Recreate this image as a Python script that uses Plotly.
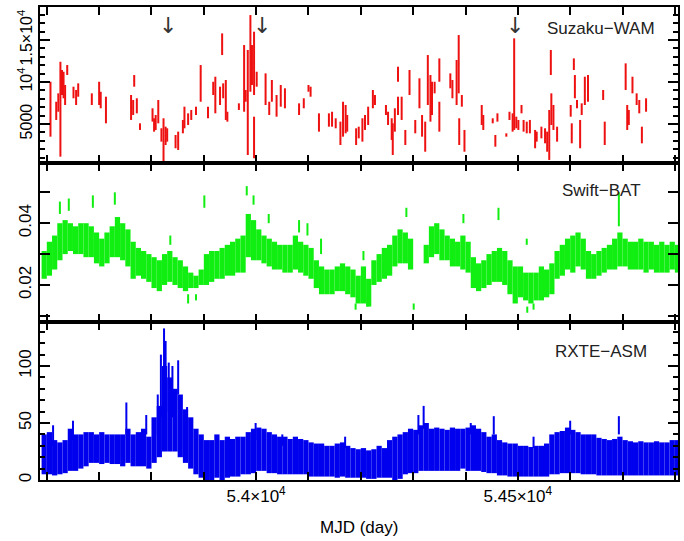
import plotly.graph_objects as go
from plotly.subplots import make_subplots

# ---------------- Suzaku-WAM (individual measurements: MJD, low, high) -------------
WAM_MJD = [53607, 53618, 53622, 53626, 53629, 53632, 53635, 53639, 53651, 53656, 53660, 53686, 53700,
           53703, 53713, 53761, 53765, 53767, 53772, 53778, 53802, 53805, 53808, 53813, 53819, 53823,
           53827, 53830, 53846, 53851, 53860, 53863, 53870, 53876, 53885, 53894, 53908, 53918, 53922,
           53931, 53935, 53937, 53942, 53945, 53967, 53977, 53980, 53984, 53989, 53992, 53996, 53996,
           54001, 54018, 54025, 54030, 54039, 54047, 54055, 54082, 54091, 54100, 54104, 54120, 54139,
           54145, 54152, 54161, 54166, 54171, 54174, 54191, 54196, 54203, 54208, 54214, 54223, 54227,
           54248, 54252, 54259, 54261, 54265, 54271, 54271, 54278, 54285, 54293, 54304, 54312, 54317,
           54323, 54328, 54333, 54336, 54341, 54350, 54350, 54371, 54375, 54383, 54387, 54388, 54393,
           54398, 54431, 54434, 54452, 54457, 54461, 54478, 54484, 54490, 54493, 54497, 54501, 54507,
           54511, 54517, 54523, 54533, 54536, 54545, 54552, 54556, 54560, 54563, 54564, 54568, 54575,
           54601, 54603, 54607, 54609, 54613, 54619, 54622, 54628, 54634, 54663, 54666, 54706, 54709,
           54712, 54719, 54727, 54732, 54737, 54745]
WAM_LO = [3490, 5480, 6460, 1110, 8450, 8060, 7260, 10830, 8060, 7260, 8250, 7260, 7260,
          6870, 5080, 5480, 6070, 9440, 6270, 4290, 5280, 4090, 4290, 5080, 2900, 510,
          2500, 2900, 2110, 1910, 3890, 4490, 4880, 5480, 6070, 7650, 5680, 8450, 6270,
          7260, 13210, 8060, 5480, 5280, 6670, 6460, 7650, 1310, 8840, 9640, 8450, 920,
          9440, 7260, 6070, 7650, 5870, 7060, 6870, 6070, 6870, 8840, 8250, 4090, 4680,
          4680, 4490, 2500, 3490, 3890, 4090, 2500, 3290, 2900, 4290, 4880, 6870, 7260,
          6070, 4880, 3100, 1310, 4090, 10030, 6070, 5480, 2500, 8450, 3890, 6870, 3490,
          1700, 7260, 5280, 6070, 8650, 10030, 4090, 9250, 8060, 7260, 8650, 2500, 7060,
          1700, 4880, 4290, 5080, 2300, 5280, 3490, 5480, 4090, 4290, 4490, 4290, 6270,
          4090, 3890, 3890, 2110, 2900, 3290, 2700, 1700, 720, 10830, 4880, 4290, 2900,
          5870, 2700, 11430, 8060, 6870, 2110, 6070, 7260, 7650, 7860, 2500, 9050, 4290,
          4880, 8650, 7260, 6270, 2700, 6460]
WAM_HI = [10030, 7650, 8650, 12410, 11430, 11220, 9640, 12020, 9440, 9050, 9840, 8650, 10030,
          8840, 8250, 8450, 7860, 10830, 8060, 5080, 6870, 5680, 6070, 7860, 4490, 5680,
          4680, 4490, 3690, 4090, 5480, 7060, 6270, 6670, 7060, 12020, 7060, 10030, 10630,
          9440, 15790, 9840, 10240, 6460, 7460, 14400, 9050, 13810, 17970, 14400, 15990, 5870,
          11220, 11030, 7650, 10240, 8450, 9640, 9250, 7460, 8060, 9640, 9440, 6270, 6270,
          6460, 5680, 5280, 7650, 7260, 6070, 4490, 4680, 5680, 6070, 7060, 9050, 8450,
          7260, 6460, 5680, 5080, 6870, 11820, 8250, 8250, 4290, 11430, 5480, 10440, 6070,
          5280, 13210, 10830, 10030, 10030, 12810, 7650, 11030, 10240, 12620, 15590, 5680, 8450,
          4290, 7260, 6070, 5680, 3690, 6270, 3890, 6460, 6270, 15200, 5870, 5480, 7260,
          5480, 5280, 5480, 4290, 4090, 4680, 4490, 4090, 6670, 13810, 8650, 7260, 4680,
          7260, 5080, 12810, 10830, 7860, 5480, 7460, 10630, 10830, 9050, 5280, 12220, 7260,
          6670, 10630, 8650, 7860, 4680, 8060]

# ---------------- 10-day bins shared by Swift-BAT and RXTE-ASM (bin centres, MJD) -------
BIN_MJD = [53595, 53605, 53615, 53625, 53635, 53645, 53655, 53665, 53675, 53685, 53695, 53705,
           53715, 53725, 53735, 53745, 53755, 53765, 53775, 53785, 53795, 53805, 53815, 53825,
           53835, 53845, 53855, 53865, 53875, 53885, 53895, 53905, 53915, 53925, 53935, 53945,
           53955, 53965, 53975, 53985, 53995, 54005, 54015, 54025, 54035, 54045, 54055, 54065,
           54075, 54085, 54095, 54105, 54115, 54125, 54135, 54145, 54155, 54165, 54175, 54185,
           54195, 54205, 54215, 54225, 54235, 54245, 54255, 54265, 54275, 54285, 54295, 54305,
           54315, 54325, 54335, 54345, 54355, 54365, 54375, 54385, 54395, 54405, 54415, 54425,
           54435, 54445, 54455, 54465, 54475, 54485, 54495, 54505, 54515, 54525, 54535, 54545,
           54555, 54565, 54575, 54585, 54595, 54605, 54615, 54625, 54635, 54645, 54655, 54665,
           54675, 54685, 54695, 54705, 54715, 54725, 54735, 54745, 54755, 54765, 54775, 54785,
           54795, 54805]

# Swift-BAT envelope per bin (count rate)
BAT_LO = [.022, .023, .025, .028, .030, .031, .030, .030, .029, .029, .027, .026,
          .027, .029, .029, .028, .026, .022, .023, .022, .021, .019, .018, .020,
          .021, .020, .019, .018, .019, .019, .020, .020, .021, .022, .022, .023,
          .023, .024, .024, .029, .028, .028, .027, .026, .025, .025, .024, .024,
          .025, .024, .023, .022, .019, .017, .017, .017, .018, .018, .017, .016,
          .014, .014, .013, .020, .021, .022, .023, .026, .027, .027, .025, None,
          None, .027, .029, .030, .028, .028, .026, .026, .025, .024, .019, .018,
          .019, .020, .021, .021, .020, .017, .014, .016, .015, .014, .015, .015,
          .016, .017, .022, .023, .025, .024, .026, .025, .022, .022, .023, .024,
          .025, .025, .026, .026, .025, .025, .025, .024, .025, .024, .024, .024,
          .025, .024]
BAT_HI = [.031, .034, .036, .040, .041, .040, .039, .040, .040, .039, .037, .035,
          .037, .039, .042, .040, .038, .034, .032, .031, .030, .029, .028, .030,
          .031, .029, .028, .026, .024, .023, .025, .030, .031, .031, .032, .033,
          .034, .035, .036, .043, .041, .038, .036, .035, .034, .033, .033, .033,
          .036, .034, .033, .032, .028, .026, .025, .025, .026, .027, .026, .025,
          .023, .026, .022, .028, .030, .032, .033, .036, .038, .037, .035, None,
          None, .033, .039, .040, .038, .036, .035, .034, .036, .034, .029, .027,
          .028, .030, .031, .032, .031, .028, .026, .026, .024, .024, .024, .026,
          .025, .027, .031, .033, .035, .036, .037, .035, .031, .030, .031, .032,
          .033, .035, .037, .035, .034, .034, .035, .034, .034, .033, .034, .033,
          .034, .033]
# Swift-BAT isolated points (MJD, low, high)
BAT_PT_MJD = [53625, 53642, 53688, 53730, 53836, 53870, 53885, 53901, 53982, 53995, 54024, 54082,
              54098, 54124, 54190, 54205, 54213, 54287, 54301, 54396, 54463, 54517, 54518, 54530, 54693]
BAT_PT_LO = [.043, .044, .045, .046, .033, .014, .015, .045, .049, .046, .040, .037,
             .036, .030, .012, .028, .013, .042, .012, .040, .041, .033, .011, .012, .039]
BAT_PT_HI = [.047, .048, .049, .050, .036, .017, .017, .049, .052, .049, .043, .041,
             .040, .035, .014, .031, .016, .045, .014, .043, .045, .035, .013, .014, .050]

# RXTE-ASM envelope per bin (count rate)
ASM_LO = [5, 5, 4, 5, 6, 8, 8, 10, 12, 15, 15, 14,
          15, 14, 14, 12, 15, 12, 12, 12, 10, 15, 20, 25,
          25, 25, 20, 15, 10, 5, 2, 0, 0, 2, 0, 2,
          3, 3, 5, 5, 6, 8, 8, 6, 6, 5, 5, 5,
          5, 5, 5, 3, 3, 3, 3, 3, 2, 3, 2, 2,
          2, 2, 1, 1, 2, 2, 2, 0, 1, 5, 6, 6,
          8, 8, 8, 8, 8, 8, 8, 8, 10, 8, 8, 8,
          7, 6, 6, 4, 4, 3, 3, 3, 3, 3, 3, 3,
          3, 5, 5, 6, 6, 6, 6, 5, 5, 5, 4, 4,
          4, 4, 4, 4, 4, 4, 4, 4, 4, 4, 4, 4,
          4, 4]
ASM_HI = [40, 42, 35, 33, 35, 45, 40, 40, 42, 42, 40, 42,
          40, 40, 40, 40, 45, 40, 42, 45, 38, 55, 65, 100,
          90, 80, 75, 62, 55, 45, 40, 35, 35, 40, 35, 38,
          36, 38, 38, 42, 45, 46, 45, 42, 40, 38, 38, 36,
          38, 36, 35, 33, 32, 32, 30, 30, 32, 33, 30, 28,
          27, 28, 26, 27, 30, 28, 35, 38, 40, 42, 45, 44,
          48, 50, 45, 46, 45, 44, 46, 45, 45, 46, 48, 45,
          42, 38, 40, 35, 33, 32, 32, 30, 30, 29, 30, 30,
          32, 40, 42, 43, 46, 44, 42, 40, 40, 40, 37, 36,
          35, 36, 38, 35, 34, 33, 34, 33, 33, 34, 33, 33,
          35, 35]
# RXTE-ASM isolated spikes (MJD, low, high)
ASM_PT_MJD = [53612, 53650, 53752, 53790, 53812, 53818, 53824, 53827, 53833, 53840, 53851, 53868,
              53999, 54050, 54170, 54310, 54320, 54410, 54454, 54530, 54600, 54693]
ASM_PT_LO = [30, 35, 40, 40, 40, 55, 80, 70, 60, 55, 75, 45, 35, 30, 28, 40, 45, 40, 40, 28, 40, 40]
ASM_PT_HI = [48, 52, 68, 57, 75, 110, 133, 122, 103, 100, 105, 64, 50, 40, 38, 57, 65, 50, 56, 38, 52, 56]

ARROW_MJD = [53832, 54011, 54495]
XTICKS = [53600, 53700, 53800, 53900, 54000, 54100, 54200, 54300, 54400, 54500, 54600, 54700, 54800]
XTICKTEXT = ["", "", "", "", "5.4×10<sup>4</sup>", "", "", "", "", "5.45×10<sup>4</sup>", "", "", ""]

RED = "#ee1111"
GREEN = "#11ee11"
BLUE = "#0000ee"
FONT = "Liberation Sans, Arial, sans-serif"

fig = make_subplots(rows=3, cols=1, shared_xaxes=True, vertical_spacing=0)


def seg_trace(x, lo, hi, color, thick):
    mid = [(a + b) / 2 for a, b in zip(lo, hi)]
    err = [(b - a) / 2 for a, b in zip(lo, hi)]
    return go.Scatter(x=x, y=mid, mode="markers", marker=dict(size=1, color=color),
                      error_y=dict(type="data", array=err, symmetric=True, color=color,
                                   thickness=thick, width=0),
                      showlegend=False, hoverinfo="skip")


def band_trace(x, lo, hi, color):
    base = [a if a is not None else 0 for a in lo]
    h = [(b - a) if (a is not None and b is not None) else 0 for a, b in zip(lo, hi)]
    return go.Bar(x=x, y=h, base=base, width=10, marker=dict(color=color, line=dict(width=0)),
                  showlegend=False, hoverinfo="skip")


fig.add_trace(seg_trace(WAM_MJD, WAM_LO, WAM_HI, RED, 2), row=1, col=1)
fig.add_trace(band_trace(BIN_MJD, BAT_LO, BAT_HI, GREEN), row=2, col=1)
fig.add_trace(seg_trace(BAT_PT_MJD, BAT_PT_LO, BAT_PT_HI, GREEN, 2), row=2, col=1)
fig.add_trace(band_trace(BIN_MJD, ASM_LO, ASM_HI, BLUE), row=3, col=1)
fig.add_trace(seg_trace(ASM_PT_MJD, ASM_PT_LO, ASM_PT_HI, BLUE, 2), row=3, col=1)

xcommon = dict(range=[53587, 54806], showline=True, linewidth=2, linecolor="black", mirror="ticks",
               ticks="inside", ticklen=8, tickwidth=1.5, tickcolor="black", tickmode="array",
               tickvals=XTICKS, showgrid=False, zeroline=False)
fig.update_xaxes(**xcommon, ticktext=[""] * len(XTICKS), row=1, col=1)
fig.update_xaxes(**xcommon, ticktext=[""] * len(XTICKS), row=2, col=1)
fig.update_xaxes(**xcommon, ticktext=XTICKTEXT, showticklabels=True,
                 tickfont=dict(family=FONT, size=17, color="black"), row=3, col=1)

ycommon = dict(showline=True, linewidth=2, linecolor="black", mirror="ticks", ticks="inside",
               ticklen=10, tickwidth=1.5, tickcolor="black", showgrid=False, zeroline=False,
               tickangle=-90, tickmode="array")
fig.update_yaxes(**ycommon, range=[357, 18929], domain=[0.6702, 1.0],
                 tickvals=[5000, 10000, 15000],
                 ticktext=["5000", "10<sup>4</sup>", "1.5×10<sup>4</sup>"],
                 tickfont=dict(family=FONT, size=16, color="black"),
                 minor=dict(tickmode="linear", tick0=0, dtick=1000, ticklen=5, ticks="inside",
                            tickcolor="black", tickwidth=1.5),
                 row=1, col=1)
fig.update_yaxes(**ycommon, range=[0.0080, 0.0595], domain=[0.3340, 0.6702],
                 tickvals=[0.01, 0.02, 0.03, 0.04, 0.05],
                 ticktext=["", "0.02", "", "0.04", ""],
                 tickfont=dict(family=FONT, size=17, color="black"),
                 row=2, col=1)
fig.update_yaxes(**ycommon, range=[0, 138.6], domain=[0.0, 0.3340],
                 tickvals=[0, 50, 100], ticktext=["0", "50", "100"],
                 tickfont=dict(family=FONT, size=17, color="black"),
                 minor=dict(tickmode="linear", tick0=0, dtick=10, ticklen=5, ticks="inside",
                            tickcolor="black", tickwidth=1.5),
                 row=3, col=1)

annots = []
for name, yp in [("Suzaku−WAM", 0.9556), ("Swift−BAT", 0.611), ("RXTE−ASM", 0.2727)]:
    annots.append(dict(text=name, xref="paper", yref="paper", x=0.8797, y=yp, xanchor="center",
                       yanchor="middle", showarrow=False,
                       font=dict(family=FONT, size=17, color="#222222")))
for m in ARROW_MJD:
    annots.append(dict(text="↓", xref="x", yref="y", x=m, y=16700, xanchor="center",
                       yanchor="middle", showarrow=False,
                       font=dict(family="DejaVu Sans", size=22, color="#333333")))
annots.append(dict(text="MJD (day)", xref="paper", yref="paper", x=0.5, y=-0.0994,
                   xanchor="center", yanchor="middle", showarrow=False,
                   font=dict(family=FONT, size=17, color="black")))

fig.update_layout(width=684, height=541, margin=dict(l=40, r=4, t=7, b=61),
                  plot_bgcolor="white", paper_bgcolor="white", barmode="overlay",
                  annotations=annots, showlegend=False)

fig.write_html("out.html")
